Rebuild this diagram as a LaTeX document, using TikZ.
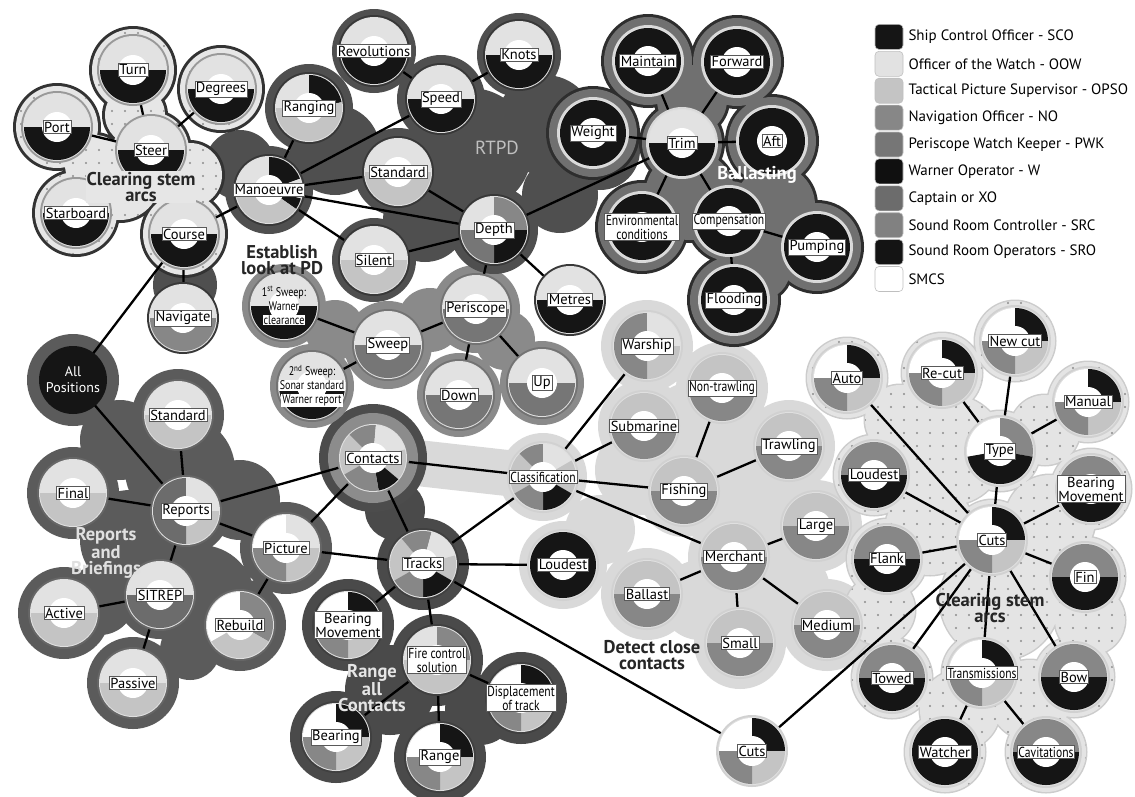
\documentclass[tikz,border=0pt]{standalone}
\usepackage{fontspec}
\setmainfont{PT Sans}
\newfontfamily\narrowfont[FakeStretch=0.8]{PT Sans}
\usetikzlibrary{positioning}
\setlength{\fboxsep}{1pt}
\definecolor{sco}{HTML}{151515}
\definecolor{oow}{HTML}{E2E2E2}
\definecolor{opso}{HTML}{C4C4C4}
\definecolor{navo}{HTML}{878787}
\definecolor{pwk}{HTML}{767676}
\definecolor{warn}{HTML}{101010}
\definecolor{capt}{HTML}{6C6C6C}
\definecolor{src}{HTML}{818181}
\definecolor{sro}{HTML}{141414}
\definecolor{smcs}{HTML}{FFFFFF}
\definecolor{detectcol}{HTML}{D9D9D9}
\definecolor{repcol}{HTML}{5B5B5B}
\definecolor{rangecol}{HTML}{4A4A4A}
\definecolor{sweepcol}{HTML}{8A8A8A}
\definecolor{rtpdcol}{HTML}{4F4F4F}
\definecolor{leftfill}{HTML}{E6E6E6}
\definecolor{ballastcol}{HTML}{707070}
\definecolor{rightfill}{HTML}{E4E4E4}
\colorlet{rimcol}{black!75}
\pgfdeclarelayer{blobs}
\pgfdeclarelayer{links}
\pgfsetlayers{blobs,links,main}
\tikzset{
	rimcolour/.code={\colorlet{rimcol}{#1}},
	lbl/.style={fill=white, draw=black!65, line width=0.5pt, inner sep=1.2pt, align=center, font=\fontsize{14.5}{14}\selectfont},
	nlbl/.style={lbl, font=\narrowfont\fontsize{14.5}{14}\selectfont},
	swlbl/.style={align=center, inner sep=0pt, font=\narrowfont\fontsize{12.5}{14}\selectfont},
	poslbl/.style={align=center, text=white, font=\fontsize{14}{16}\selectfont},
	grp/.style={align=center, font=\bfseries\fontsize{18.5}{16.5}\selectfont},
	link/.style={line width=2.3pt, black},
	swatch/.style={rounded corners=4pt, minimum width=28pt, minimum height=25pt, inner sep=0pt, draw=black!25, line width=0.6pt},
	legtext/.style={inner sep=0pt, font=\fontsize{15}{15}\selectfont}}
% ring patterns: top half / bottom half etc.
\def\oowsco{180/360/oow, 0/180/sco}
\def\oowopso{180/360/oow, 0/180/opso}
\def\oowpwk{180/360/oow, 0/180/pwk}
\def\opsono{180/360/opso, 0/180/navo}
\def\navsco{180/360/navo, 0/180/sco}
\def\allsco{0/360/sco}
\def\quadseg{180/270/smcs, 270/360/sco, 0/90/opso, 90/180/navo}
% role ring: [label style]{name}{position}{segments}{label}
\newcommand{\rolenode}[5][lbl]{%
	\coordinate (#2) at (#3);
	\fill[rimcol] (#2) circle (36);
	\fill[black!12] (#2) circle (34);
	\edef\ringsegs{#4}%
	\foreach \segA/\segB/\segC in \ringsegs
		{\fill[\segC] (#2) -- ++(\segA:33) arc[start angle=\segA, end angle=\segB, radius=33] -- cycle;}
	\fill[white] (#2) circle (15);
	\node[#1] (#2-t) at (#2) {#5};}

\begin{document}
\begin{tikzpicture}[x=1pt, y=-1pt]
\useasboundingbox (0,0) rectangle (1135,796);

% NODES
% clearing stem arcs (left)
\begin{scope}[rimcolour=black!40]
\rolenode{turn}{133,70}{\oowsco}{Turn}
\rolenode{degrees}{221,89}{\oowsco}{Degrees}
\rolenode{port}{57,127}{\oowsco}{Port}
\rolenode{steer}{151,150}{\oowsco}{Steer}
\rolenode{starboard}{76,213}{\oowsco}{Starboard}
\rolenode{course}{184,234}{\oowsco}{Course}
\end{scope}
% RTPD
\begin{scope}[rimcolour=black!78]
\rolenode{ranging}{309,108}{180/270/oow, 270/350/sco, 350/540/opso}{Ranging}
\rolenode{manoeuvre}{269,190}{180/270/oow, 270/340/sco, 340/375/oow, 375/395/sco, 395/540/opso}{Manoeuvre}
\rolenode{revolutions}{374,51}{\oowsco}{Revolutions}
\rolenode{speed}{441,99}{\oowsco}{Speed}
\rolenode{knots}{519,55}{\oowsco}{Knots}
\rolenode{standard}{398,172}{\oowopso}{Standard}
\rolenode{silent}{374,260}{\oowopso}{Silent}
\rolenode{depth}{494,230}{180/270/oow, 270/360/navo, 0/90/sco, 90/180/pwk}{Depth}
\rolenode{metres}{570,300}{\oowsco}{Metres}
\rolenode{navigate}{183,318}{180/360/oow, 0/180/navo}{Navigate}
\end{scope}
% ballasting
\begin{scope}[rimcolour=black!15]
\rolenode{maintain}{648,61}{\allsco}{Maintain}
\rolenode{forward}{737,62}{\allsco}{Forward}
\rolenode{weight}{593,133}{\allsco}{Weight}
\rolenode{trim}{682,143}{\oowsco}{Trim}
\rolenode{aft}{772,141}{\allsco}{Aft}
\rolenode[nlbl]{env}{642,227}{\allsco}{Environmental\\conditions}
\rolenode[nlbl]{comp}{729,221}{\allsco}{Compensation}
\rolenode{pumping}{817,247}{\allsco}{Pumping}
\rolenode{flooding}{734,300}{\allsco}{Flooding}
\end{scope}
% establish look at PD
\begin{scope}[rimcolour=black!55]
\rolenode[swlbl]{sweep1}{284,306}{\oowsco}{1\textsuperscript{st} Sweep:\\Warner\\\colorbox{white}{clearance}}
\rolenode{sweep}{388,345}{\oowpwk}{Sweep}
\rolenode[swlbl]{sweep2}{312,386}{\oowsco}{2\textsuperscript{nd} Sweep:\\\colorbox{white}{Sonar standard}\\\colorbox{white}{Warner report}}
\rolenode{periscope}{476,309}{\oowpwk}{Periscope}
\rolenode{down}{459,395}{\oowpwk}{Down}
\rolenode{up}{542,383}{\oowpwk}{Up}
\end{scope}
% reports and briefings
\coordinate (allpos) at (73,380);
\fill[sco] (allpos) circle (34);
\node[poslbl] (allpos-t) at (allpos) {All\\Positions};
\begin{scope}[rimcolour=black!60]
\rolenode{standard2}{178,415}{\oowopso}{Standard}
\rolenode{final}{73,493}{\oowopso}{Final}
\rolenode{reports}{186,511}{180/270/capt, 270/360/oow, 0/90/opso, 90/180/capt}{Reports}
\rolenode{picture}{286,548}{180/270/smcs, 270/360/oow, 0/90/opso, 90/180/navo}{Picture}
\rolenode{sitrep}{160,595}{180/360/oow, 0/180/capt}{SITREP}
\rolenode{active}{64,613}{\oowopso}{Active}
\rolenode{passive}{133,683}{\oowopso}{Passive}
\rolenode{rebuild}{240,625}{150/270/smcs, 270/390/navo, 390/510/opso}{Rebuild}
\end{scope}
% contacts, range all contacts
\begin{scope}[rimcolour=black!45]
\rolenode{contacts}{373,458}{150/225/opso, 225/275/navo, 275/345/oow, 345/400/opso, 400/440/sco, 440/510/navo}{Contacts}
\end{scope}
\begin{scope}[rimcolour=black!75]
\rolenode{tracks}{423,564}{150/230/opso, 230/285/navo, 285/345/oow, 345/390/opso, 390/450/sco, 450/510/navo}{Tracks}
\rolenode{bm1}{348,625}{\quadseg}{Bearing\\Movement}
\rolenode[nlbl]{fire}{437,660}{180/270/oow, 270/360/navo, 0/180/opso}{Fire control\\solution}
\rolenode[nlbl]{disp}{521,698}{\quadseg}{Displacement\\of track}
\rolenode{bearing}{336,737}{\quadseg}{Bearing}
\rolenode{range}{440,757}{\quadseg}{Range}
\end{scope}
% detect close contacts
\begin{scope}[rimcolour=black!18]
\rolenode[nlbl]{classif}{543,477}{150/225/opso, 225/270/navo, 270/330/oow, 330/390/opso, 390/450/sco, 450/510/navo}{Classification}
\rolenode{loudest1}{563,565}{\allsco}{Loudest}
\rolenode{warship}{647,346}{180/270/navo, 270/360/oow, 0/90/opso, 90/180/navo}{Warship}
\rolenode[nlbl]{nontrawl}{722,388}{\opsono}{Non-trawling}
\rolenode{submarine}{644,426}{\opsono}{Submarine}
\rolenode{trawling}{789,446}{\opsono}{Trawling}
\rolenode{fishing}{684,491}{\opsono}{Fishing}
\rolenode{large}{816,526}{\opsono}{Large}
\rolenode{merchant}{734,557}{\opsono}{Merchant}
\rolenode{ballast}{647,594}{\opsono}{Ballast}
\rolenode{small}{740,643}{\opsono}{Small}
\rolenode{medium}{827,625}{\opsono}{Medium}
\rolenode{cutsb}{752,751}{\quadseg}{Cuts}
\end{scope}
% clearing stem arcs (right)
\begin{scope}[rimcolour=black!18]
\rolenode{newcut}{1015,341}{\quadseg}{New cut}
\rolenode{auto}{847,378}{\quadseg}{Auto}
\rolenode{recut}{942,373}{\quadseg}{Re-cut}
\rolenode{manual}{1088,402}{\quadseg}{Manual}
\rolenode{type}{1000,451}{170/270/smcs, 270/370/navo, 370/530/sco}{Type}
\rolenode{loudest2}{874,475}{\navsco}{Loudest}
\rolenode{bm2}{1091,489}{\navsco}{Bearing\\Movement}
\rolenode{cuts}{992,540}{\quadseg}{Cuts}
\rolenode{flank}{887,559}{\navsco}{Flank}
\rolenode{fin}{1085,577}{\navsco}{Fin}
\rolenode{towed}{892,678}{\navsco}{Towed}
\rolenode[nlbl]{trans}{982,673}{\quadseg}{Transmissions}
\rolenode{bow}{1074,677}{\navsco}{Bow}
\rolenode{watcher}{945,752}{\allsco}{Watcher}
\rolenode[nlbl]{cav}{1046,752}{\navsco}{Cavitations}
\end{scope}

% group labels
\node[grp, text=black!85, fill=leftfill, inner sep=1pt] (leftlbl) at (141,187) {Clearing stem\\arcs};
\node[text=black!25, font=\fontsize{19}{19}\selectfont] (rtpdlbl) at (497,148) {RTPD};
\node[grp, text=white] (ballastlbl) at (757,175) {Ballasting};
\node[grp, text=black!85] (pdlbl) at (282,260) {Establish\\look at PD};
\node[grp, text=black!12] (reportlbl) at (106,553) {Reports\\and\\Briefings};
\node[grp, text=black!10] (rangelbl) at (372,688) {Range\\all\\Contacts};
\node[grp, text=black!85] (detectlbl) at (652,655) {Detect close\\contacts};
\node[grp, text=black!85] (arcslbl) at (990,608) {Clearing stem\\arcs};

% legend
\foreach \col/\txt [count=\k] in {sco/Ship Control Officer - SCO, oow/Officer of the Watch - OOW,
	opso/Tactical Picture Supervisor - OPSO, navo/Navigation Officer - NO,
	pwk/Periscope Watch Keeper - PWK, warn/Warner Operator - W, capt/Captain or XO,
	src/Sound Room Controller - SRC, sro/Sound Room Operators - SRO, smcs/SMCS}
{
	\node[swatch, fill=\col] (sw\k) at (889,{10+26.9*\k}) {};
	\node[legtext, right=5pt of sw\k] (lg\k) {\txt};
}

% GROUPS
\def\detectblob{(warship) circle (46) (nontrawl) circle (46) (submarine) circle (46) (trawling) circle (46)
	(fishing) circle (46) (large) circle (46) (merchant) circle (46) (ballast) circle (46) (small) circle (46)
	(medium) circle (46) (classif) circle (44) (700,440) circle (60) (760,520) circle (60) (640,470) circle (45)
	(600,530) circle (35) (700,600) circle (40) (790,590) circle (40)}
\def\reportsblob{(allpos) circle (46) (standard2) circle (46) (final) circle (46) (reports) circle (44)
	(picture) circle (46) (sitrep) circle (44) (active) circle (46) (passive) circle (46) (rebuild) circle (46)
	(180,470) circle (55) (240,500) circle (40) (120,440) circle (40) (200,600) circle (55) (130,540) circle (50)
	(100,600) circle (35) (190,650) circle (30)}
\def\rangeblob{(tracks) circle (46) (bm1) circle (46) (fire) circle (46) (disp) circle (46) (bearing) circle (46)
	(range) circle (46) (395,510) circle (30) (390,690) circle (45) (480,710) circle (35)}
\def\sweepblob{(sweep1) circle (42) (sweep) circle (44) (sweep2) circle (42) (periscope) circle (44)
	(down) circle (42) (up) circle (42) (335,330) circle (30) (430,320) circle (32) (505,340) circle (30)}
\def\rtpdblob{(ranging) circle (44) (manoeuvre) circle (44) (revolutions) circle (42) (speed) circle (44)
	(knots) circle (42) (standard) circle (44) (silent) circle (42) (depth) circle (44) (470,150) circle (62)
	(545,125) circle (50) (425,220) circle (42) (335,150) circle (45) (560,195) circle (38) (600,150) circle (40)
	(240,165) circle (35) (185,285) circle (32)}
\def\ballastblob{(maintain) circle (44) (forward) circle (44) (weight) circle (44) (trim) circle (40)
	(aft) circle (44) (env) circle (44) (comp) circle (40) (pumping) circle (44) (flooding) circle (44)
	(690,195) circle (45) (775,205) circle (40) (692,100) circle (35) (760,270) circle (30)}
\def\leftblob{(turn) circle (41) (degrees) circle (41) (port) circle (41) (steer) circle (38)
	(starboard) circle (41) (course) circle (41) (120,180) circle (40) (190,175) circle (32)
	(135,115) circle (30) (95,165) circle (30)}
\def\rightblob{(newcut) circle (40) (auto) circle (40) (recut) circle (40) (manual) circle (40) (type) circle (40)
	(loudest2) circle (40) (bm2) circle (40) (cuts) circle (40) (flank) circle (40) (fin) circle (40)
	(towed) circle (40) (trans) circle (40) (bow) circle (40) (watcher) circle (40) (cav) circle (40)
	(950,450) circle (55) (1000,600) circle (60) (930,530) circle (45) (1050,520) circle (45) (1045,430) circle (35)
	(900,420) circle (35) (960,710) circle (40) (1030,700) circle (40) (880,610) circle (35) (1090,620) circle (35)}

\begin{pgfonlayer}{blobs}
\fill[detectcol] \detectblob;
\draw[line width=46pt, detectcol] (contacts) -- (classif);
\fill[detectcol] (loudest1) circle (44);
\fill[repcol] \reportsblob;
\fill[rangecol] \rangeblob;
\fill[black!70] (contacts) circle (54);
\fill[black!45] (contacts) circle (45);
\fill[sweepcol] \sweepblob;
\fill[rtpdcol] \rtpdblob;
\fill[leftfill, preaction={draw=black!80, line width=6pt}] \leftblob;
\begin{scope}
	\clip \leftblob;
	\foreach \x in {8,21,...,240} {\foreach \y in {20,33,...,290} {\fill[black!45] (\x,\y) circle (1.2);}}
\end{scope}
\fill[ballastcol, preaction={draw=black!82, line width=6pt}] \ballastblob;
\fill[rightfill, preaction={draw=black!20, line width=3pt}] \rightblob;
\begin{scope}
	\clip \rightblob;
	\foreach \x in {800,813,...,1135} {\foreach \y in {290,303,...,796} {\fill[black!45] (\x,\y) circle (1.2);}}
\end{scope}
\end{pgfonlayer}

% CONNECTIONS
\begin{pgfonlayer}{links}
\foreach \u/\v in {turn/steer, port/steer, degrees/steer, steer/course, course/manoeuvre, course/navigate, course/allpos}
	\draw[link] (\u) -- (\v);
\foreach \u/\v in {manoeuvre/ranging, manoeuvre/speed, manoeuvre/standard, manoeuvre/depth, manoeuvre/silent,
	speed/revolutions, speed/knots, standard/depth, silent/depth, depth/trim, depth/metres, depth/periscope}
	\draw[link] (\u) -- (\v);
\foreach \u/\v in {trim/maintain, trim/forward, trim/weight, trim/aft, trim/env, trim/comp, comp/pumping, comp/flooding}
	\draw[link] (\u) -- (\v);
\foreach \u/\v in {sweep/sweep1, sweep/sweep2, sweep/periscope, periscope/down, periscope/up}
	\draw[link] (\u) -- (\v);
\foreach \u/\v in {reports/allpos, reports/standard2, reports/final, reports/sitrep, reports/picture, reports/contacts,
	sitrep/active, sitrep/passive, picture/rebuild, picture/contacts, picture/tracks}
	\draw[link] (\u) -- (\v);
\foreach \u/\v in {contacts/tracks, contacts/classif, tracks/classif, tracks/loudest1, tracks/bm1, tracks/fire,
	tracks/cutsb, fire/disp, fire/bearing, fire/range}
	\draw[link] (\u) -- (\v);
\foreach \u/\v in {classif/warship, classif/submarine, classif/fishing, classif/merchant, fishing/nontrawl,
	fishing/trawling, merchant/large, merchant/ballast, merchant/small, merchant/medium}
	\draw[link] (\u) -- (\v);
\foreach \u/\v in {cutsb/cuts, cuts/type, type/newcut, type/recut, type/manual, cuts/auto, cuts/loudest2, cuts/bm2,
	cuts/flank, cuts/fin, cuts/towed, cuts/trans, cuts/bow, trans/watcher, trans/cav}
	\draw[link] (\u) -- (\v);
\end{pgfonlayer}

\end{tikzpicture}
\end{document}
